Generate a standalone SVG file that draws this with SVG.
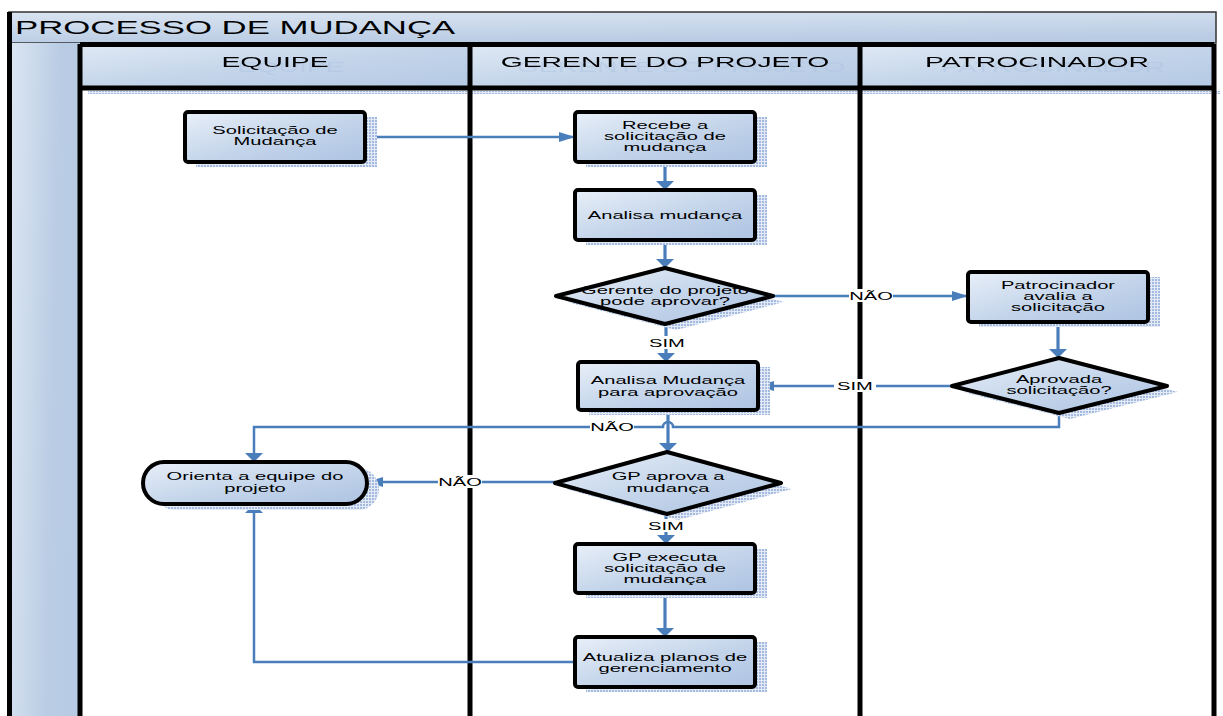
<svg xmlns="http://www.w3.org/2000/svg" width="1223" height="716" viewBox="0 0 1223 716">
<defs>
<linearGradient id="g" x1="0" y1="0" x2="1" y2="1"><stop offset="0" stop-color="#e8eff8"/><stop offset="0.55" stop-color="#c3d4ea"/><stop offset="1" stop-color="#adc3e2"/></linearGradient>
<linearGradient id="hg" x1="0" y1="0" x2="1" y2="1"><stop offset="0" stop-color="#e0e9f4"/><stop offset="0.5" stop-color="#c4d5ea"/><stop offset="1" stop-color="#b4c9e4"/></linearGradient>
<linearGradient id="tg" x1="0" y1="0" x2="0.3" y2="1"><stop offset="0" stop-color="#dae4f1"/><stop offset="1" stop-color="#b9cce4"/></linearGradient>
<linearGradient id="lg" x1="0" y1="0" x2="1" y2="0.2"><stop offset="0" stop-color="#dce6f2"/><stop offset="0.7" stop-color="#b9cce4"/><stop offset="1" stop-color="#b7cbe4"/></linearGradient>
<pattern id="dots" width="3" height="3" patternUnits="userSpaceOnUse"><rect width="3" height="3" fill="#e3eaf5"/><rect width="2" height="2" fill="#a4bbdf"/></pattern>
<filter id="ghost" x="-10%" y="-50%" width="130%" height="220%"><feOffset in="SourceAlpha" dx="9" dy="5" result="o"/><feFlood flood-color="#a9bee0" flood-opacity="0.4"/><feComposite in2="o" operator="in" result="s"/><feMerge><feMergeNode in="s"/><feMergeNode in="SourceGraphic"/></feMerge></filter>
<marker id="mh" markerUnits="userSpaceOnUse" markerWidth="16" markerHeight="10" refX="16" refY="5" orient="auto"><path d="M0,0 L16,5 L0,10 z" fill="#4a7ebb"/></marker>
<marker id="mv" markerUnits="userSpaceOnUse" markerWidth="9" markerHeight="18" refX="9" refY="9" orient="auto"><path d="M0,0 L9,9 L0,18 z" fill="#4a7ebb"/></marker>
<style>
.nd{fill:url(#g);stroke:#000;stroke-width:4;stroke-linejoin:round}
.sh{fill:url(#dots)}
.tx{font-family:"Liberation Sans",Arial,sans-serif;font-size:11px;fill:#000;text-anchor:middle}
.hd{font-family:"Liberation Sans",Arial,sans-serif;font-size:15.5px;fill:#000;text-anchor:middle;filter:url(#ghost)}
.cn{fill:none;stroke:#4a7ebb;stroke-width:2.5}
.cv{fill:none;stroke:#4a7ebb;stroke-width:3.2}
.bg{fill:#fff}
.bl{fill:none;stroke:#000;stroke-width:5}
</style>
</defs>
<g id="frame">
<rect x="9" y="12" width="1207" height="31" fill="url(#tg)" stroke="#333" stroke-width="1.5"/>
<text font-family="Liberation Sans,Arial,sans-serif" font-size="19" transform="translate(15,34) scale(1.83,1)">PROCESSO DE MUDANÇA</text>
<rect x="10" y="43" width="70" height="680" fill="url(#lg)"/>
<rect x="80" y="44" width="390" height="44" fill="url(#hg)"/>
<rect x="470" y="44" width="390" height="44" fill="url(#hg)"/>
<rect x="860" y="44" width="354" height="44" fill="url(#hg)"/>
<rect x="88" y="91" width="1132" height="3" class="sh"/>
<path class="bl" d="M9.5,12 V716 M80,44 V716 M470,44 V716 M860,44 V716 M1214,44 V716 M80,44.5 H1214 M80,88 H1214"/>
<text class="hd" transform="translate(275,67) scale(1.83,1)">EQUIPE</text>
<text class="hd" transform="translate(665,67) scale(1.83,1)">GERENTE DO PROJETO</text>
<text class="hd" transform="translate(1037,67) scale(1.83,1)">PATROCINADOR</text>
</g>
<g id="connectors">
<path class="cn" d="M365,137 H575" marker-end="url(#mh)"/>
<path class="cv" d="M665,162 V190" marker-end="url(#mv)"/>
<path class="cv" d="M665,240 V268" marker-end="url(#mv)"/>
<path class="cn" d="M773,296 H968" marker-end="url(#mh)"/>
<path class="cv" d="M666,324 V362" marker-end="url(#mv)"/>
<path class="cv" d="M1058,322 V358" marker-end="url(#mv)"/>
<path class="cn" d="M952,386 H758" marker-end="url(#mh)"/>
<path class="cn" d="M1059,413 V427 H673 A5,5 0 0 0 663,427 H254 V462" marker-end="url(#mv)"/>
<path class="cv" d="M668,410 V452" marker-end="url(#mv)"/>
<path class="cn" d="M555,482 H367" marker-end="url(#mh)"/>
<path class="cv" d="M666,514 V544" marker-end="url(#mv)"/>
<path class="cv" d="M665,593 V637" marker-end="url(#mv)"/>
<path class="cn" d="M575,662 H254 V504" marker-end="url(#mv)"/>
<rect class="bg" x="849" y="289" width="44" height="13"/><text class="tx" transform="translate(871,300) scale(1.83,1)">NÃO</text>
<rect class="bg" x="646" y="336" width="42" height="13"/><text class="tx" transform="translate(667,347) scale(1.83,1)">SIM</text>
<rect class="bg" x="834" y="379" width="42" height="13"/><text class="tx" transform="translate(855,390) scale(1.83,1)">SIM</text>
<rect class="bg" x="590" y="420" width="44" height="13"/><text class="tx" transform="translate(612,431) scale(1.83,1)">NÃO</text>
<rect class="bg" x="438" y="475" width="44" height="13"/><text class="tx" transform="translate(460,486) scale(1.83,1)">NÃO</text>
<rect class="bg" x="645" y="519" width="42" height="13"/><text class="tx" transform="translate(666,530) scale(1.83,1)">SIM</text>
</g>
<g id="n1">
<rect class="sh" x="196" y="117" width="181" height="50"/>
<rect class="nd" x="185" y="112" width="180" height="50" rx="3"/>
<text class="tx" transform="translate(275,134) scale(1.83,1)"><tspan x="0">Solicitação de</tspan><tspan x="0" dy="11">Mudança</tspan></text>
</g>
<g id="n2">
<rect class="sh" x="586" y="117" width="181" height="50"/>
<rect class="nd" x="575" y="112" width="180" height="50" rx="3"/>
<text class="tx" transform="translate(665,129) scale(1.83,1)"><tspan x="0">Recebe a</tspan><tspan x="0" dy="11">solicitação de</tspan><tspan x="0" dy="11">mudança</tspan></text>
</g>
<g id="n3">
<rect class="sh" x="586" y="195" width="181" height="50"/>
<rect class="nd" x="575" y="190" width="180" height="50" rx="3"/>
<text class="tx" transform="translate(665,219) scale(1.83,1)">Analisa mudança</text>
</g>
<g id="d1">
<polygon class="sh" points="676,274 784,302 676,330 567,302"/>
<polygon class="nd" points="665,268 773,296 665,324 556,296"/>
<text class="tx" transform="translate(665,294) scale(1.83,1)"><tspan x="0">Gerente do projeto</tspan><tspan x="0" dy="11">pode aprovar?</tspan></text>
</g>
<g id="p1">
<rect class="sh" x="979" y="277" width="181" height="50"/>
<rect class="nd" x="968" y="272" width="180" height="50" rx="3"/>
<text class="tx" transform="translate(1058,289) scale(1.83,1)"><tspan x="0">Patrocinador</tspan><tspan x="0" dy="11">avalia a</tspan><tspan x="0" dy="11">solicitação</tspan></text>
</g>
<g id="d2">
<polygon class="sh" points="1070,364 1178,392 1070,419 963,392"/>
<polygon class="nd" points="1059,358 1167,386 1059,413 952,386"/>
<text class="tx" transform="translate(1059,383) scale(1.83,1)"><tspan x="0">Aprovada</tspan><tspan x="0" dy="11">solicitação?</tspan></text>
</g>
<g id="n4">
<rect class="sh" x="589" y="367" width="181" height="48"/>
<rect class="nd" x="578" y="362" width="180" height="48" rx="3"/>
<text class="tx" transform="translate(668,384) scale(1.83,1)"><tspan x="0">Analisa Mudança</tspan><tspan x="0" dy="12">para aprovação</tspan></text>
</g>
<g id="t1">
<rect class="sh" x="154" y="468" width="225" height="42" rx="21"/>
<rect class="nd" x="143" y="462" width="224" height="42" rx="21"/>
<text class="tx" transform="translate(255,480) scale(1.83,1)"><tspan x="0">Orienta a equipe do</tspan><tspan x="0" dy="12">projeto</tspan></text>
</g>
<g id="d3">
<polygon class="sh" points="678,458 792,489 678,520 566,489"/>
<polygon class="nd" points="667,452 781,483 667,514 555,483"/>
<text class="tx" transform="translate(668,480) scale(1.83,1)"><tspan x="0">GP aprova a</tspan><tspan x="0" dy="12">mudança</tspan></text>
</g>
<g id="n5">
<rect class="sh" x="586" y="549" width="181" height="49"/>
<rect class="nd" x="575" y="544" width="180" height="49" rx="3"/>
<text class="tx" transform="translate(665,561) scale(1.83,1)"><tspan x="0">GP executa</tspan><tspan x="0" dy="11">solicitação de</tspan><tspan x="0" dy="11">mudança</tspan></text>
</g>
<g id="n6">
<rect class="sh" x="586" y="642" width="181" height="50"/>
<rect class="nd" x="575" y="637" width="180" height="50" rx="3"/>
<text class="tx" transform="translate(665,661) scale(1.83,1)"><tspan x="0">Atualiza planos de</tspan><tspan x="0" dy="11">gerenciamento</tspan></text>
</g>
</svg>
